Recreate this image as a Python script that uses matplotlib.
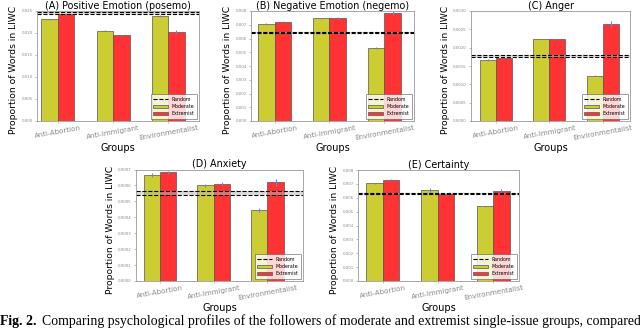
import matplotlib
matplotlib.use("Agg")
import matplotlib.pyplot as plt
import numpy as np

groups = ["Anti-Abortion", "Anti-Immigrant", "Environmentalist"]
titles = ["(A) Positive Emotion (posemo)", "(B) Negative Emotion (negemo)",
          "(C) Anger", "(D) Anxiety", "(E) Certainty"]

moderate = [
    [0.0231, 0.0205, 0.0239],
    [0.00706, 0.00747, 0.00531],
    [0.00167, 0.00224, 0.00124],
    [0.000663, 0.000600, 0.000447],
    [0.00704, 0.00655, 0.00537],
]
extremist = [
    [0.0243, 0.0195, 0.0203],
    [0.00723, 0.00747, 0.00786],
    [0.00173, 0.00223, 0.00264],
    [0.000683, 0.000611, 0.000619],
    [0.00730, 0.00624, 0.00648],
]
moderate_err = [
    [0.0001, 0.0001, 0.0002],
    [0.00005, 0.00004, 0.00006],
    [0.00002, 0.00001, 0.00002],
    [0.000012, 0.000008, 0.000012],
    [0.00005, 0.00012, 0.00006],
]
extremist_err = [
    [0.0001, 0.0001, 0.0004],
    [0.00004, 0.00006, 0.00012],
    [0.00001, 0.00002, 0.00008],
    [0.00001, 0.00001, 0.00002],
    [0.00004, 0.00003, 0.00018],
]
random_lo = [0.0243, 0.00640, 0.00175, 0.000540, 0.00625]
random_hi = [0.0247, 0.00647, 0.00181, 0.000563, 0.00632]
ymax = [0.025, 0.008, 0.003, 0.0007, 0.008]
ystep = [0.005, 0.001, 0.0005, 0.0001, 0.001]
yfmt = ["%.3f", "%.3f", "%.4f", "%.4f", "%.3f"]

W, H = 640, 329
boxes = [  # left, right, top, bottom in px
    (37, 199, 11, 121),
    (251, 414, 11, 121),
    (471, 630, 11, 121),
    (136, 303, 169.5, 281),
    (358, 519, 170, 281),
]
xlims = [(-0.38, 2.56), (-0.43, 2.54), (-0.47, 2.51), (-0.44, 2.66), (-0.45, 2.47)]

fig = plt.figure(figsize=(W / 100, H / 100), dpi=100)
fig.patch.set_facecolor("white")

width = 0.3
ind = np.arange(len(groups))
c_mod = "#cccc33"
c_ext = "#ff3333"

for i in range(5):
    l, r, t, b = boxes[i]
    ax = fig.add_axes([l / W, 1 - b / H, (r - l) / W, (b - t) / H])
    ax.bar(ind - width, moderate[i], width, align="edge", color=c_mod,
           edgecolor="#555555", linewidth=0.5, label="Moderate",
           yerr=moderate_err[i], ecolor="#7777ff", error_kw=dict(elinewidth=0.8, capsize=0))
    ax.bar(ind, extremist[i], width, align="edge", color=c_ext,
           edgecolor="#555555", linewidth=0.5, label="Extremist",
           yerr=extremist_err[i], ecolor="#7777ff", error_kw=dict(elinewidth=0.8, capsize=0))
    ax.axhspan(random_lo[i], random_hi[i], color="#bbbbbb", alpha=0.5, lw=0)
    ax.axhline(random_lo[i], color="black", ls="--", lw=0.8, label="Random")
    ax.axhline(random_hi[i], color="black", ls="--", lw=0.8)
    ax.set_xlim(*xlims[i])
    ax.set_ylim(0, ymax[i])
    yt = np.arange(0, ymax[i] + ystep[i] / 2, ystep[i])
    ax.set_yticks(yt)
    ax.set_yticklabels([yfmt[i] % v for v in yt], fontsize=2.8, color="#888888")
    ax.set_xticks(ind)
    ax.set_xticklabels(groups, rotation=10, fontsize=5.1, color="#888888", ha="center")
    ax.tick_params(axis="both", length=1.5, width=0.4, pad=1.5, color="#888888")
    ax.tick_params(axis="x", pad=1)
    for s in ax.spines.values():
        s.set_color("#999999")
        s.set_linewidth(0.6)
    ax.set_title(titles[i], fontsize=6.9, pad=1.5)
    ax.set_ylabel("Proportion of Words in LIWC", fontsize=6.6, labelpad=2.5)
    ax.yaxis.label.set_y(0.46)
    ax.set_xlabel("Groups", fontsize=7.0, labelpad=1.5)
    h, lab = ax.get_legend_handles_labels()
    order = [lab.index("Random"), lab.index("Moderate"), lab.index("Extremist")]
    leg = ax.legend([h[k] for k in order], [lab[k] for k in order], loc="lower right",
                    fontsize=3.4, frameon=True, fancybox=False, borderpad=0.6,
                    handlelength=3.0, labelspacing=0.5, borderaxespad=0.4)
    leg.get_frame().set_edgecolor("#555555")
    leg.get_frame().set_linewidth(0.5)

fig.text(0.0, 1 - 321 / H, "Fig. 2.", fontsize=9.9, family="Liberation Serif",
         weight="bold", va="center", ha="left")
fig.text(0.066, 1 - 321 / H,
         "Comparing psychological profiles of the followers of moderate and extremist single-issue groups, compared",
         fontsize=9.9, family="Liberation Serif", va="center", ha="left")

fig.savefig("out.png", dpi=100, facecolor="white")
